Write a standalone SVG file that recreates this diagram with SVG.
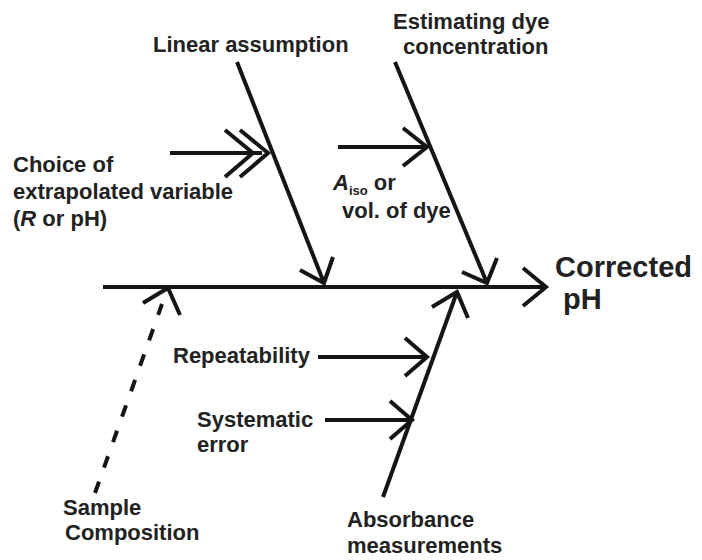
<svg xmlns="http://www.w3.org/2000/svg" width="702" height="560" viewBox="0 0 702 560">
<style>
.ln{stroke:#151515;stroke-width:4;fill:none;stroke-linecap:butt;stroke-linejoin:miter}
.t{font-family:"Liberation Sans",Arial,sans-serif;font-weight:bold;font-size:22px;fill:#222}
.big{font-size:29px}
</style>
<rect width="702" height="560" fill="#fff"/>
<g id="connectors">
  <line class="ln" x1="103" y1="287" x2="545" y2="287"/>
  <polyline class="ln" points="523,268 546,287 523,306"/>
  <line class="ln" x1="237" y1="62" x2="324" y2="283"/>
  <polyline class="ln" points="300,270 324,283 333,257"/>
  <line class="ln" x1="395" y1="62" x2="487" y2="283"/>
  <polyline class="ln" points="462,272 487,283 497,258"/>
  <line class="ln" x1="383" y1="497" x2="457" y2="292"/>
  <polyline class="ln" points="432,307 457,292 468,318"/>
  <line class="ln" x1="95" y1="493" x2="162" y2="304" stroke-dasharray="12 15"/>
  <polyline class="ln" points="143,303 168,288 180,315"/>
  <line class="ln" x1="170" y1="153" x2="262" y2="153"/>
  <polyline class="ln" points="225,130 253,153 225,177"/>
  <polyline class="ln" points="240,130 268,153 240,177"/>
  <line class="ln" x1="338" y1="147" x2="425" y2="147"/>
  <polyline class="ln" points="403,128 427,147 403,166"/>
  <line class="ln" x1="318" y1="357" x2="425" y2="357"/>
  <polyline class="ln" points="405,338 427,357 405,376"/>
  <line class="ln" x1="325" y1="420" x2="410" y2="420"/>
  <polyline class="ln" points="390,401 412,420 390,439"/>
</g>
<g id="linear-assumption"><text class="t" x="153" y="52">Linear assumption</text></g>
<g id="estimating-dye"><text class="t" x="393" y="29">Estimating dye</text><text class="t" x="403" y="54">concentration</text></g>
<g id="choice"><text class="t" x="13" y="172">Choice of</text><text class="t" x="13" y="199">extrapolated variable</text><text class="t" x="13" y="226">(<tspan font-style="italic">R</tspan> or pH)</text></g>
<g id="aiso"><text class="t" x="333" y="190"><tspan font-style="italic">A</tspan><tspan font-size="13" dy="5">iso</tspan><tspan dy="-5"> or</tspan></text><text class="t" x="342" y="218">vol. of dye</text></g>
<g id="corrected-ph"><text class="t big" x="555" y="277">Corrected</text><text class="t big" x="563" y="309">pH</text></g>
<g id="repeatability"><text class="t" x="173" y="363">Repeatability</text></g>
<g id="systematic"><text class="t" x="197" y="427">Systematic</text><text class="t" x="197" y="452">error</text></g>
<g id="sample"><text class="t" x="63" y="515">Sample</text><text class="t" x="65" y="540">Composition</text></g>
<g id="absorbance"><text class="t" x="347" y="527">Absorbance</text><text class="t" x="347" y="553">measurements</text></g>
</svg>
